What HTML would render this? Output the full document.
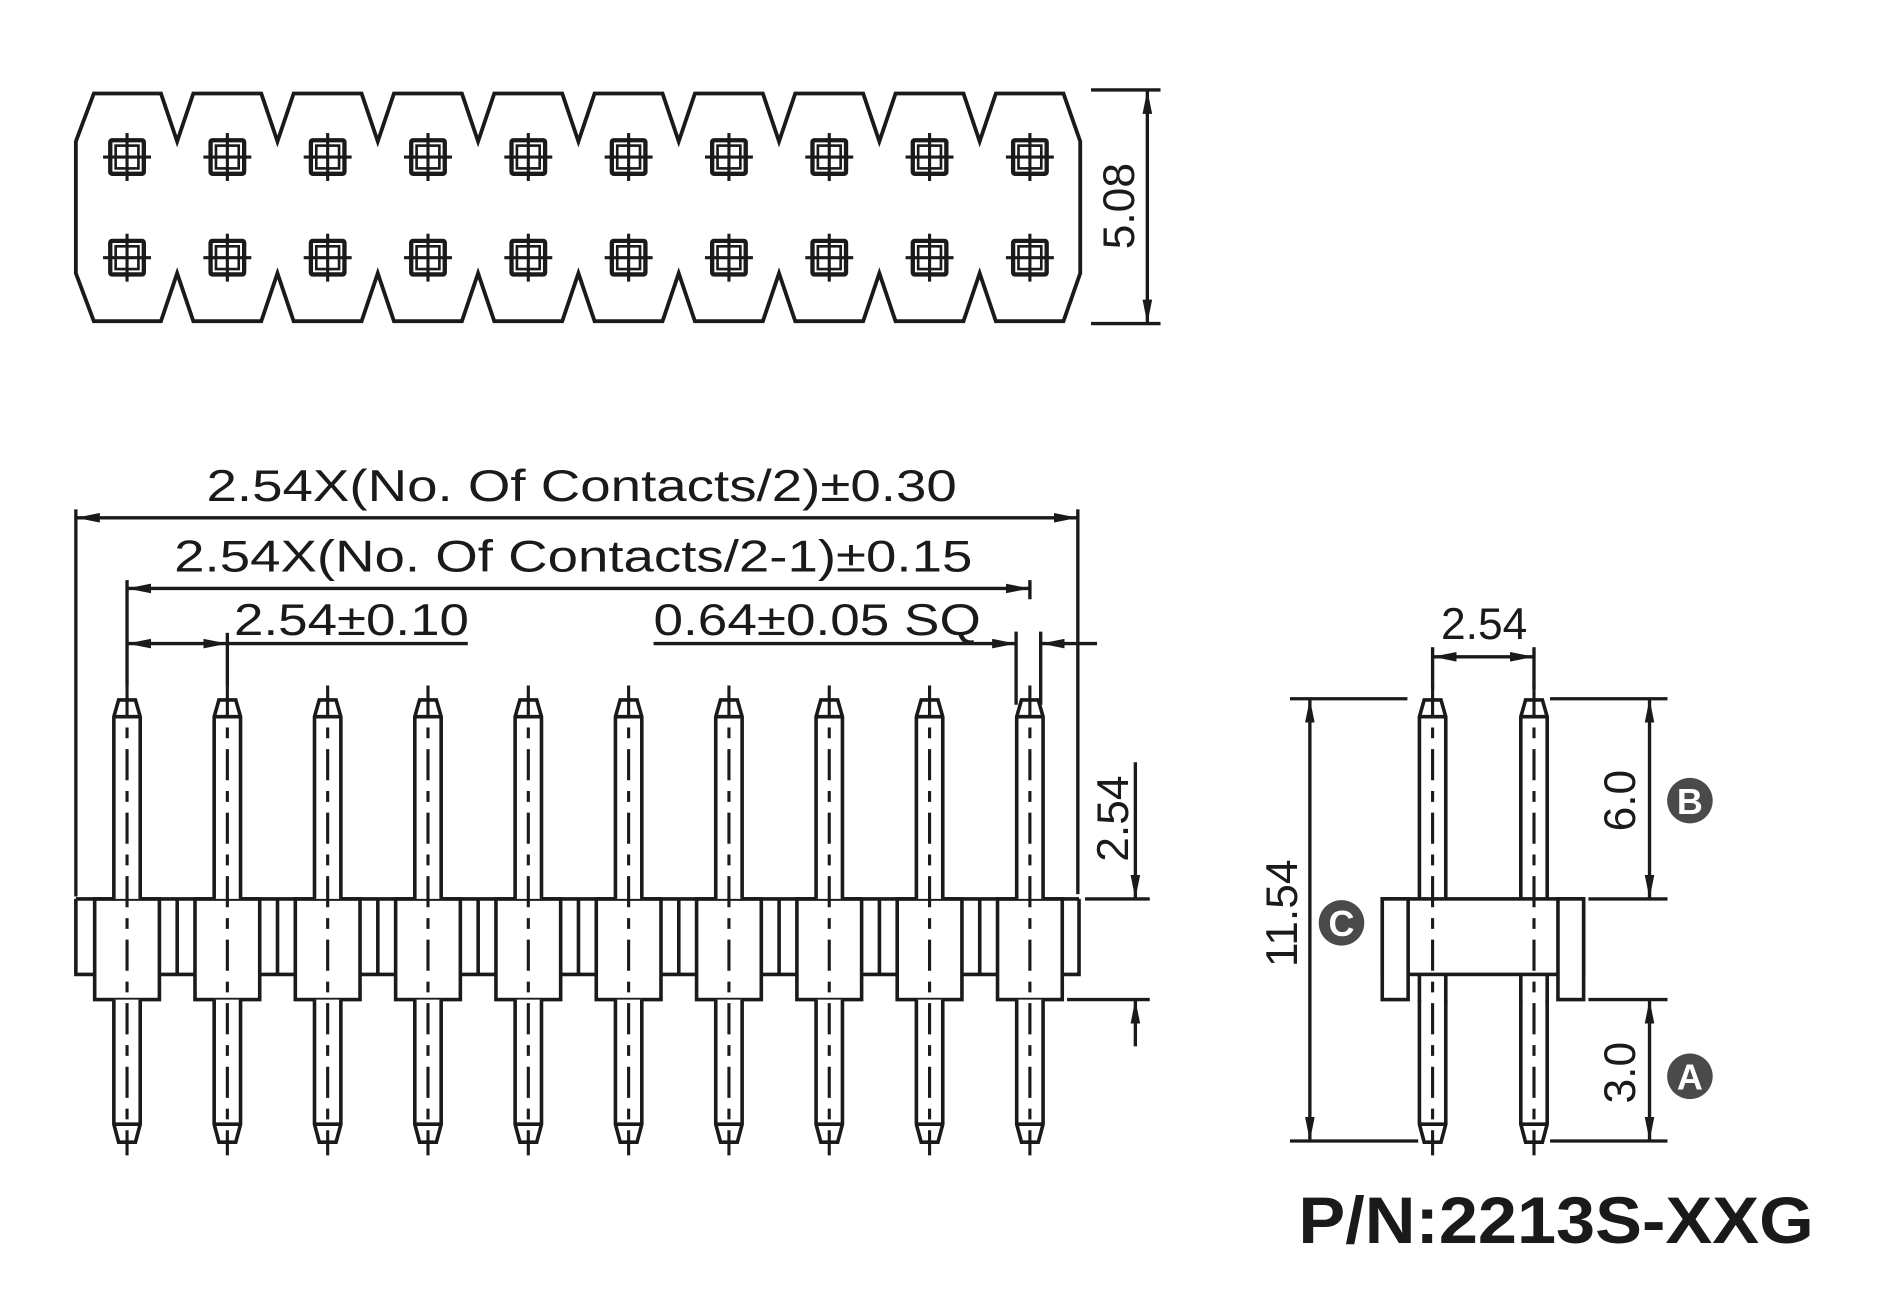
<!DOCTYPE html>
<html><head><meta charset="utf-8"><style>
html,body{margin:0;padding:0;background:#fff;}
svg{display:block;}
text{font-family:"Liberation Sans",Arial,sans-serif;fill:#1a1a1a;}
</style></head><body>
<svg width="1880" height="1304" viewBox="0 0 1568 1088" xmlns="http://www.w3.org/2000/svg">
<defs>
<marker id="ar" viewBox="0 0 20 8" refX="20" refY="4" markerWidth="20" markerHeight="8" markerUnits="userSpaceOnUse" orient="auto-start-reverse">
<path d="M0,0 L20,4 L0,8 Z" fill="#1a1a1a"/></marker>
<g id="pad" fill="none" stroke="#1a1a1a">
<rect x="-14" y="-14" width="28" height="28" stroke-width="3.6" rx="1.5"/>
<rect x="-9.5" y="-9.5" width="19" height="19" stroke-width="2.2"/>
<line x1="-20" y1="0" x2="20" y2="0" stroke-width="2.6"/>
<line x1="0" y1="-20" x2="0" y2="20" stroke-width="2.6"/>
</g>
<g id="pin" fill="#fff" stroke="#1a1a1a" stroke-width="3">
<path d="M-11,750 L-11,598 L-7,584 L7,584 L11,598 L11,750"/>
<line x1="-11" y1="598" x2="11" y2="598"/>
<path d="M-11,834 L-11,938 L-7,953 L7,953 L11,938 L11,834"/>
<line x1="-11" y1="938" x2="11" y2="938"/>
<line x1="0" y1="572" x2="0" y2="964" stroke-width="2.6" stroke-dasharray="26 9 9 9"/>
</g>
<g id="blk" fill="none" stroke="#1a1a1a" stroke-width="3">
<rect x="-27" y="750" width="54" height="84"/>
</g>
<g id="gap" fill="none" stroke="#1a1a1a" stroke-width="3">
<line x1="27" y1="813" x2="56.7" y2="813"/>
<line x1="41.85" y1="750" x2="41.85" y2="813"/>
</g>
</defs>

<!-- TOP VIEW -->
<path fill="none" stroke="#1a1a1a" stroke-width="3.2" stroke-linejoin="miter" d="M78,78 L134,78 L147.5,118 L161,78 L217.7,78 L231.2,118 L244.7,78 L301.4,78 L314.9,118 L328.4,78 L385.1,78 L398.6,118 L412.1,78 L468.8,78 L482.3,118 L495.8,78 L552.5,78 L566,118 L579.5,78 L636.2,78 L649.7,118 L663.2,78 L719.9,78 L733.4,118 L746.9,78 L803.6,78 L817.1,118 L830.6,78 L887,78 L901,118 L901,228 L887,268 L830.6,268 L817.1,228 L803.6,268 L746.9,268 L733.4,228 L719.9,268 L663.2,268 L649.7,228 L636.2,268 L579.5,268 L566,228 L552.5,268 L495.8,268 L482.3,228 L468.8,268 L412.1,268 L398.6,228 L385.1,268 L328.4,268 L314.9,228 L301.4,268 L244.7,268 L231.2,228 L217.7,268 L161,268 L147.5,228 L134,268 L78,268 L63,228 L63,118 Z"/>
<g>
<use href="#pad" x="105.7" y="131"/><use href="#pad" x="189.4" y="131"/><use href="#pad" x="273.1" y="131"/><use href="#pad" x="356.8" y="131"/><use href="#pad" x="440.5" y="131"/><use href="#pad" x="524.2" y="131"/><use href="#pad" x="607.9" y="131"/><use href="#pad" x="691.6" y="131"/><use href="#pad" x="775.3" y="131"/><use href="#pad" x="859" y="131"/>
<use href="#pad" x="105.7" y="215"/><use href="#pad" x="189.4" y="215"/><use href="#pad" x="273.1" y="215"/><use href="#pad" x="356.8" y="215"/><use href="#pad" x="440.5" y="215"/><use href="#pad" x="524.2" y="215"/><use href="#pad" x="607.9" y="215"/><use href="#pad" x="691.6" y="215"/><use href="#pad" x="775.3" y="215"/><use href="#pad" x="859" y="215"/>
</g>
<g stroke="#1a1a1a" stroke-width="2.8" fill="none">
<line x1="910" y1="75" x2="968" y2="75"/>
<line x1="910" y1="270" x2="968" y2="270"/>
<line x1="957" y1="75" x2="957" y2="270" marker-start="url(#ar)" marker-end="url(#ar)"/>
</g>
<text x="0" y="0" font-size="37" text-anchor="middle" transform="translate(946,172) rotate(-90)">5.08</text>

<!-- FRONT VIEW -->
<g>
<use href="#blk" x="105.7"/><use href="#blk" x="189.4"/><use href="#blk" x="273.1"/><use href="#blk" x="356.8"/><use href="#blk" x="440.5"/><use href="#blk" x="524.2"/><use href="#blk" x="607.9"/><use href="#blk" x="691.6"/><use href="#blk" x="775.3"/><use href="#blk" x="859"/>
<use href="#gap" x="105.7"/><use href="#gap" x="189.4"/><use href="#gap" x="273.1"/><use href="#gap" x="356.8"/><use href="#gap" x="440.5"/><use href="#gap" x="524.2"/><use href="#gap" x="607.9"/><use href="#gap" x="691.6"/><use href="#gap" x="775.3"/>
</g>
<g fill="none" stroke="#1a1a1a" stroke-width="3">
<line x1="63" y1="750" x2="900" y2="750"/>
<path d="M78.7,813 L63,813 L63,750"/>
<path d="M886,813 L900,813 L900,750"/>
</g>
<g>
<use href="#pin" x="105.7"/><use href="#pin" x="189.4"/><use href="#pin" x="273.1"/><use href="#pin" x="356.8"/><use href="#pin" x="440.5"/><use href="#pin" x="524.2"/><use href="#pin" x="607.9"/><use href="#pin" x="691.6"/><use href="#pin" x="775.3"/><use href="#pin" x="859"/>
</g>
<!-- dims front -->
<g stroke="#1a1a1a" stroke-width="2.8" fill="none">
<line x1="63" y1="425" x2="63" y2="748"/>
<line x1="899" y1="425" x2="899" y2="746"/>
<line x1="63" y1="432" x2="899" y2="432" marker-start="url(#ar)" marker-end="url(#ar)"/>
<line x1="105.7" y1="484" x2="105.7" y2="572"/>
<line x1="859" y1="484" x2="859" y2="500"/>
<line x1="105.7" y1="491" x2="859" y2="491" marker-start="url(#ar)" marker-end="url(#ar)"/>
<line x1="189.4" y1="528" x2="189.4" y2="572"/>
<line x1="105.7" y1="537" x2="189.4" y2="537" marker-start="url(#ar)" marker-end="url(#ar)"/>
<line x1="189.4" y1="537" x2="390" y2="537"/>
<line x1="545" y1="537" x2="847.5" y2="537" marker-end="url(#ar)"/>
<line x1="915" y1="537" x2="868" y2="537" marker-end="url(#ar)"/>
<line x1="847.5" y1="527" x2="847.5" y2="588"/>
<line x1="868" y1="527" x2="868" y2="588"/>
<line x1="905" y1="750" x2="959" y2="750"/>
<line x1="947" y1="636" x2="947" y2="750" marker-end="url(#ar)"/>
<line x1="890" y1="834" x2="959" y2="834"/>
<line x1="947" y1="873" x2="947" y2="834" marker-end="url(#ar)"/>
</g>
<text x="172" y="418" font-size="37" textLength="626" lengthAdjust="spacingAndGlyphs">2.54X(No. Of  Contacts/2)±0.30</text>
<text x="145" y="477" font-size="37" textLength="666" lengthAdjust="spacingAndGlyphs">2.54X(No. Of  Contacts/2-1)±0.15</text>
<text x="195" y="530" font-size="37" textLength="196" lengthAdjust="spacingAndGlyphs">2.54±0.10</text>
<text x="545" y="530" font-size="37" textLength="273" lengthAdjust="spacingAndGlyphs">0.64±0.05 SQ</text>
<text x="0" y="0" font-size="37" text-anchor="middle" transform="translate(941,683) rotate(-90)">2.54</text>

<!-- SIDE VIEW -->
<use href="#pin" x="1195"/><use href="#pin" x="1279.6"/>
<g fill="none" stroke="#1a1a1a" stroke-width="3">
<line x1="1184" y1="813" x2="1184" y2="836"/>
<line x1="1206" y1="813" x2="1206" y2="836"/>
<line x1="1268.6" y1="813" x2="1268.6" y2="836"/>
<line x1="1290.6" y1="813" x2="1290.6" y2="836"/>
<rect x="1153" y="750" width="168" height="63"/>
<rect x="1153" y="750" width="21.6" height="84" fill="#fff"/>
<rect x="1299.6" y="750" width="21.4" height="84" fill="#fff"/>
</g>
<g stroke="#1a1a1a" stroke-width="2.8" fill="none">
<line x1="1195" y1="540" x2="1195" y2="575"/>
<line x1="1279.6" y1="540" x2="1279.6" y2="575"/>
<line x1="1195" y1="548" x2="1279.6" y2="548" marker-start="url(#ar)" marker-end="url(#ar)"/>
<line x1="1076" y1="583" x2="1174" y2="583"/>
<line x1="1076" y1="952" x2="1183" y2="952"/>
<line x1="1092.6" y1="583" x2="1092.6" y2="952" marker-start="url(#ar)" marker-end="url(#ar)"/>
<line x1="1293" y1="583" x2="1391" y2="583"/>
<line x1="1325" y1="750" x2="1391" y2="750"/>
<line x1="1325" y1="834" x2="1391" y2="834"/>
<line x1="1293" y1="952" x2="1391" y2="952"/>
<line x1="1376" y1="583" x2="1376" y2="750" marker-start="url(#ar)" marker-end="url(#ar)"/>
<line x1="1376" y1="834" x2="1376" y2="952" marker-start="url(#ar)" marker-end="url(#ar)"/>
</g>
<text x="1238" y="533" font-size="37" text-anchor="middle">2.54</text>
<text x="0" y="0" font-size="37" text-anchor="middle" transform="translate(1364,668) rotate(-90)">6.0</text>
<text x="0" y="0" font-size="37" text-anchor="middle" transform="translate(1364,895) rotate(-90)">3.0</text>
<text x="0" y="0" font-size="37" text-anchor="middle" transform="translate(1082,762) rotate(-90)">11.54</text>
<circle cx="1409.7" cy="668" r="19" fill="#4a4a4a"/>
<text x="1409.7" y="679" font-size="30" font-weight="bold" text-anchor="middle" style="fill:#fff">B</text>
<circle cx="1409.7" cy="898" r="19" fill="#4a4a4a"/>
<text x="1409.7" y="909" font-size="30" font-weight="bold" text-anchor="middle" style="fill:#fff">A</text>
<circle cx="1119" cy="770" r="19" fill="#4a4a4a"/>
<text x="1119" y="781" font-size="30" font-weight="bold" text-anchor="middle" style="fill:#fff">C</text>

<text x="1083" y="1037" font-size="55" font-weight="bold" textLength="430" lengthAdjust="spacingAndGlyphs">P/N:2213S-XXG</text>
</svg>
</body></html>
